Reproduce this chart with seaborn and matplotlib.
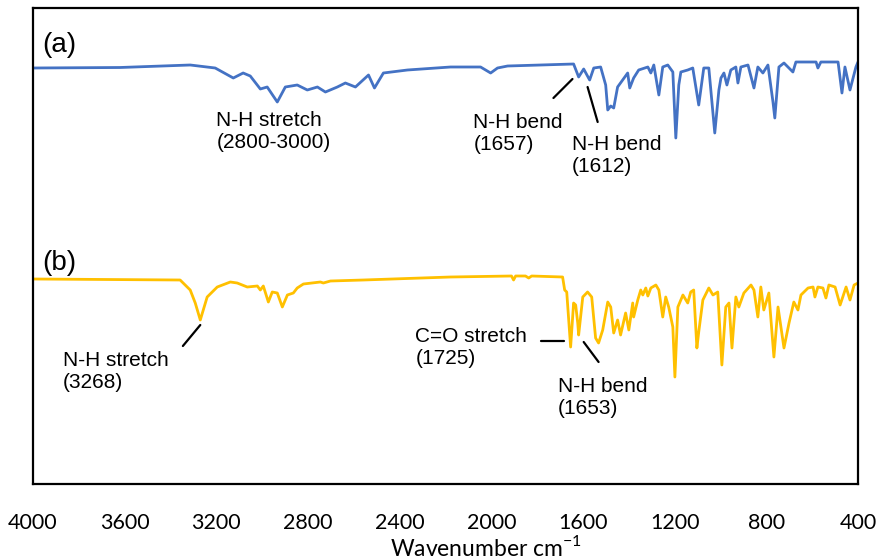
import matplotlib
matplotlib.use("Agg")
import matplotlib.pyplot as plt
import seaborn as sns
import numpy as np
import pandas as pd

# spectrum (a) - wavenumber (cm-1) and signal (arbitrary units)
wn_a = [4000, 3620, 3314, 3205, 3126, 3083, 3052, 3008, 2978, 2934, 2899, 2847, 2803, 2759,
        2724, 2672, 2637, 2593, 2536, 2510, 2471, 2366, 2178, 2047, 2003, 1973, 1929, 1785,
        1641, 1619, 1597, 1571, 1553, 1523, 1501, 1492, 1479, 1466, 1449, 1427, 1405, 1396,
        1379, 1357, 1317, 1304, 1291, 1269, 1252, 1230, 1208, 1195, 1182, 1173, 1143, 1121,
        1095, 1073, 1051, 1025, 1007, 998, 985, 972, 955, 933, 924, 911, 880, 854, 837, 815,
        793, 771, 763, 745, 723, 684, 671, 583, 575, 562, 487, 470, 457, 435, 409, 400]
sig_a = [416, 416.5, 419, 416, 406, 411, 408, 395, 397, 382, 397, 399, 394, 397,
         392, 397, 401, 397, 409, 396, 411, 414, 417, 417, 411, 416, 418, 419,
         420, 407, 415, 404, 416, 417, 399, 374, 378, 376, 397, 404, 411, 396,
         406, 414, 417, 411, 419, 389, 417, 419, 412, 346, 399, 412, 414, 416,
         379, 416, 416, 351, 394, 406, 411, 399, 414, 417, 401, 417, 419, 396, 417, 411,
         419, 382, 366, 417, 421, 412, 422, 422, 416, 422, 422, 391, 417, 394, 417, 422]

# spectrum (b)
wn_b = [4000, 3358, 3314, 3292, 3270, 3257, 3240, 3196, 3139, 3109, 3065, 3021, 3008, 2995,
        2973, 2956, 2934, 2912, 2890, 2864, 2847, 2820, 2746, 2733, 2702, 2558, 2178, 1912,
        1903, 1894, 1851, 1837, 1824, 1689, 1680, 1671, 1654, 1641, 1632, 1623, 1619, 1601,
        1580, 1562, 1545, 1532, 1514, 1492, 1479, 1466, 1449, 1436, 1414, 1400, 1383, 1379,
        1361, 1348, 1339, 1326, 1317, 1304, 1282, 1269, 1252, 1239, 1226, 1208, 1199, 1186,
        1164, 1143, 1130, 1117, 1103, 1095, 1077, 1051, 1033, 1012, 994, 977, 963, 950, 933,
        920, 898, 867, 854, 837, 824, 811, 789, 767, 749, 723, 701, 680, 662, 649, 618, 596,
        588, 575, 553, 540, 527, 500, 478, 452, 435, 417, 400]
sig_b = [205, 204, 194, 181, 164, 174, 187, 197, 202, 201, 197, 198, 194, 198,
         182, 192, 191, 177, 189, 191, 196, 200, 202, 201, 203, 204, 207, 208,
         204, 208, 208, 206, 208, 207, 194, 192, 137, 181, 179, 161, 149, 187,
         192, 187, 146, 141, 154, 182, 177, 151, 164, 149, 171, 154, 181, 167,
         184, 194, 189, 196, 188, 196, 199, 194, 167, 187, 177, 157, 107, 177,
         189, 181, 192, 194, 136, 152, 184, 196, 189, 192, 119, 177, 181, 136, 187,
         177, 191, 199, 194, 167, 197, 174, 191, 127, 177, 136, 161, 182, 174, 189, 196, 197,
         187, 197, 196, 186, 199, 197, 179, 197, 184, 199, 201]

xticks = [4000, 3600, 3200, 2800, 2400, 2000, 1600, 1200, 800, 400]

df_a = pd.DataFrame({"wavenumber": wn_a, "signal": sig_a})
df_b = pd.DataFrame({"wavenumber": wn_b, "signal": sig_b})

sns.set_style("white")
plt.rcParams['font.family'] = ['Liberation Sans', 'DejaVu Sans']
plt.rcParams['text.color'] = 'black'

fig = plt.figure(figsize=(8.77, 5.59), dpi=100)
ax = fig.add_axes([33/877, 75/559, 825/877, 476/559])

sns.lineplot(data=df_a, x="wavenumber", y="signal", color="#4472C4", linewidth=2.0,
             estimator=None, ax=ax)
sns.lineplot(data=df_b, x="wavenumber", y="signal", color="#FFC000", linewidth=2.0,
             estimator=None, ax=ax)

axis_font = ['Lato', 'DejaVu Sans']
ax.set_xlim(4000, 400)
ax.set_ylim(0, 476)
ax.set_xticks(xticks)
ax.set_xticklabels([str(t) for t in xticks], fontsize=15.5, family=axis_font, color='black')
ax.tick_params(axis='x', length=0, pad=21)
ax.set_yticks([])
ax.set_ylabel("")
ax.set_xlabel("Wavenumber cm$^{\\mathregular{-1}}$", fontsize=16.5, family=axis_font,
              color='black', labelpad=1)
ax.xaxis.label.set_x(0.549)
for s in ax.spines.values():
    s.set_color("black")
    s.set_linewidth(1.6)

# panel labels
ax.text(3960, 439, "(a)", fontsize=20, va='center', ha='left')
ax.text(3960, 221, "(b)", fontsize=20, va='center', ha='left')

# annotations
fs = 15
ls = 1.2
ax.text(3200, 352, "N-H stretch\n(2800-3000)", fontsize=fs, va='center', ha='left', linespacing=ls)
ax.text(2078, 351, "N-H bend\n(1657)", fontsize=fs, va='center', ha='left', linespacing=ls)
ax.plot([1729, 1646], [386, 405], color='black', lw=1.6)
ax.text(1650, 329, "N-H bend\n(1612)", fontsize=fs, va='center', ha='left', linespacing=ls)
ax.plot([1580, 1536], [397, 362], color='black', lw=1.6)

ax.text(3869, 113, "N-H stretch\n(3268)", fontsize=fs, va='center', ha='left', linespacing=ls)
ax.plot([3346, 3270], [138, 159], color='black', lw=1.6)
ax.text(2331, 137, "C=O stretch\n(1725)", fontsize=fs, va='center', ha='left', linespacing=ls)
ax.plot([1785, 1685], [143, 143], color='black', lw=1.6)
ax.text(1711, 87, "N-H bend\n(1653)", fontsize=fs, va='center', ha='left', linespacing=ls)
ax.plot([1597, 1532], [142, 122], color='black', lw=1.6)

fig.savefig("out.png", dpi=100)
